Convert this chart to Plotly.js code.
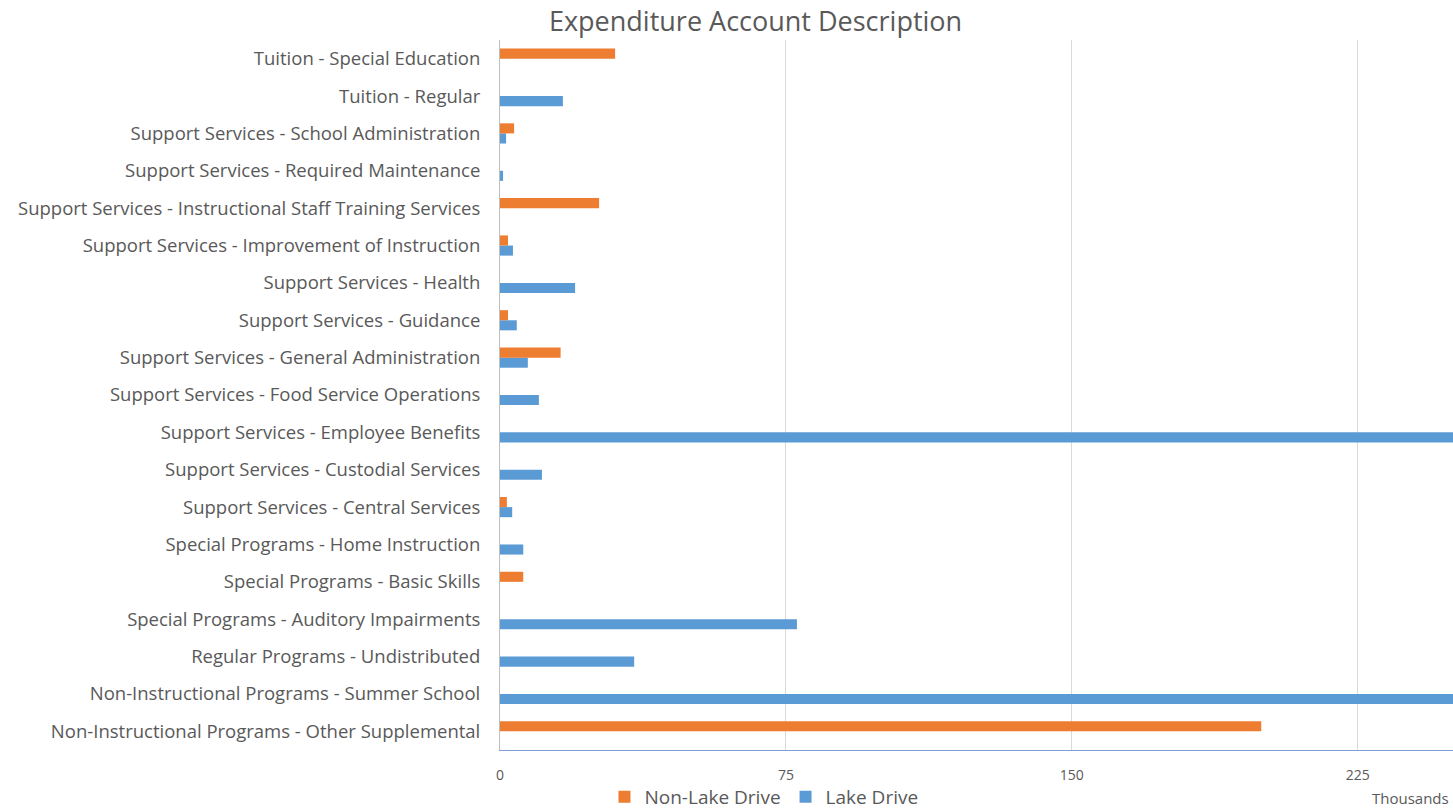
<!DOCTYPE html>
<html>
<head>
<meta charset="utf-8">
<script src="https://cdn.plot.ly/plotly-3.0.1.min.js"></script>
<style>html,body{margin:0;padding:0;background:#fff;}#chart{width:1453px;height:811px;}</style>
</head>
<body>
<div id="chart"></div>
<script>
const categories = [
  "Non-Instructional Programs - Other Supplemental",
  "Non-Instructional Programs - Summer School",
  "Regular Programs - Undistributed",
  "Special Programs - Auditory Impairments",
  "Special Programs - Basic Skills",
  "Special Programs - Home Instruction",
  "Support Services - Central Services",
  "Support Services - Custodial Services",
  "Support Services - Employee Benefits",
  "Support Services - Food Service Operations",
  "Support Services - General Administration",
  "Support Services - Guidance",
  "Support Services - Health",
  "Support Services - Improvement of Instruction",
  "Support Services - Instructional Staff Training Services",
  "Support Services - Required Maintenance",
  "Support Services - School Administration",
  "Tuition - Regular",
  "Tuition - Special Education"
];
// values in thousands
const nonLakeDrive = [199.7, null, null, null, 6.1, null, 1.8, null, null, null, 15.9, 2.1, null, 2.1, 26.0, null, 3.7, null, 30.2];
const lakeDrive    = [null, 290, 35.2, 77.9, null, 6.1, 3.2, 11.0, 300, 10.2, 7.3, 4.4, 19.7, 3.4, null, 0.8, 1.6, 16.5, null];
const xTicks = [0, 75, 150, 225];

const font = "Open Sans, Noto Sans, sans-serif";
const traces = [
  {type: "bar", orientation: "h", name: "Lake Drive", y: categories, x: lakeDrive,
   marker: {color: "#5B9BD5"}, hoverinfo: "x+y"},
  {type: "bar", orientation: "h", name: "Non-Lake Drive", y: categories, x: nonLakeDrive,
   marker: {color: "#ED7D31"}, hoverinfo: "x+y"}
];
const layout = {
  width: 1453, height: 811,
  margin: {l: 500, r: 0, t: 40, b: 61, pad: 0, autoexpand: false},
  paper_bgcolor: "#fff", plot_bgcolor: "#fff",
  font: {family: font, color: "#595959"},
  title: {text: "Expenditure Account Description", font: {size: 27, color: "#595959", family: font},
          xref: "container", x: 0.52, xanchor: "center", yref: "container", y: 0.974, yanchor: "middle",
          automargin: false},
  barmode: "group", bargap: 0.46, bargroupgap: 0,
  xaxis: {range: [0, 250], tickvals: xTicks, ticktext: xTicks.map(String), automargin: false,
          showgrid: true, gridcolor: "#d9d9d9", gridwidth: 1, zeroline: false,
          showline: true, linecolor: "#7f9fd3", linewidth: 1,
          tickfont: {size: 14, color: "#595959"}, ticks: "", ticklabelstandoff: 12, fixedrange: true},
  yaxis: {type: "category", categoryorder: "array", categoryarray: categories, automargin: false,
          showgrid: false, zeroline: false, showline: true, linecolor: "#bfbfbf", linewidth: 1,
          tickfont: {size: 18.5, color: "#595959"}, ticks: "", ticklabelstandoff: 15, fixedrange: true},
  showlegend: true,
  legend: {orientation: "h", traceorder: "reversed", xref: "paper", x: 0.277, xanchor: "center",
           yref: "paper", y: -0.066, yanchor: "middle", bgcolor: "rgba(0,0,0,0)",
           font: {size: 19, color: "#595959"}, itemwidth: 30},
  annotations: [{text: "Thousands", xref: "paper", yref: "paper", x: 0.998, xanchor: "right",
                 y: -0.067, yanchor: "middle", showarrow: false, font: {size: 15, color: "#595959"}}]
};
Plotly.newPlot("chart", traces, layout, {displayModeBar: false, staticPlot: true});
</script>
</body>
</html>
